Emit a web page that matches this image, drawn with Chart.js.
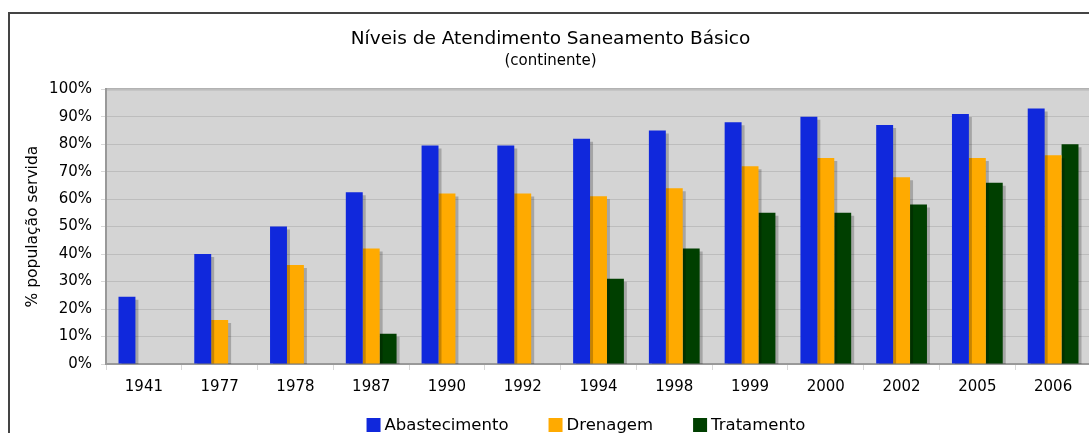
<!DOCTYPE html>
<html>
<head>
<meta charset="utf-8">
<script src="https://cdn.jsdelivr.net/npm/chart.js@4.4.0/dist/chart.umd.min.js"></script>
<style>
  html, body { margin: 0; padding: 0; background: #fff; overflow: hidden; }
  .moldura {
    position: absolute; left: 8px; top: 12px;
    width: 1170px; height: 460px;
    border-left: 2px solid #444; border-top: 2px solid #444;
  }
  .moldura canvas { position: absolute; left: 0; top: 0; }
</style>
</head>
<body>
<div class="moldura">
  <canvas id="grafico" width="1100" height="440"></canvas>
</div>
<script>
const anos = ['1941', '1977', '1978', '1987', '1990', '1992', '1994', '1998', '1999', '2000', '2002', '2005', '2006'];
const abastecimento = [24.5, 40, 50, 62.5, 79.5, 79.5, 82, 85, 88, 90, 87, 91, 93];
const drenagem = [null, 16, 36, 42, 62, 62, 61, 64, 72, 75, 68, 75, 76];
const tratamento = [null, null, null, 11, null, null, 31, 42, 55, 55, 58, 66, 80];
const ticksY = [0, 10, 20, 30, 40, 50, 60, 70, 80, 90, 100];

const fonte = "'DejaVu Sans', Verdana, sans-serif";

// fundo cinza da area do grafico + borda de cima
const fundoPlot = {
  id: 'fundoPlot',
  beforeDraw(chart) {
    const { ctx, chartArea: a } = chart;
    ctx.save();
    ctx.fillStyle = '#d4d4d4';
    ctx.fillRect(a.left, a.top, a.right - a.left, a.bottom - a.top);
    ctx.strokeStyle = '#999';
    ctx.lineWidth = 2;
    ctx.beginPath();
    ctx.moveTo(a.left, a.top);
    ctx.lineTo(a.right, a.top);
    ctx.stroke();
    ctx.restore();
  }
};

// sombra das barras
const sombra = {
  id: 'sombra',
  beforeDatasetsDraw(chart) {
    const ctx = chart.ctx;
    ctx.save();
    ctx.shadowColor = 'rgba(0,0,0,0.22)';
    ctx.shadowOffsetX = 3;
    ctx.shadowOffsetY = 3;
    ctx.shadowBlur = 0;
  },
  afterDatasetsDraw(chart) {
    chart.ctx.restore();
  }
};

// legenda desenhada a mao (espacamento do original)
const legenda = {
  id: 'legenda',
  afterDraw(chart) {
    const ctx = chart.ctx;
    const box = 14, gapTexto = 4, gapItem = 40;
    const centroX = 576;
    const y = chart.chartArea.bottom + 61;
    ctx.save();
    ctx.font = '16.5px ' + fonte;
    ctx.textBaseline = 'middle';
    ctx.textAlign = 'left';
    const itens = chart.data.datasets.map(ds => ({
      cor: ds.backgroundColor, texto: ds.label, w: ctx.measureText(ds.label).width
    }));
    let total = itens.reduce((s, it) => s + box + gapTexto + it.w, 0) + gapItem * (itens.length - 1);
    let x = centroX - total / 2;
    itens.forEach(it => {
      ctx.fillStyle = it.cor;
      ctx.fillRect(x, y - box / 2, box, box);
      ctx.fillStyle = '#000';
      ctx.fillText(it.texto, x + box + gapTexto, y + 1);
      x += box + gapTexto + it.w + gapItem;
    });
    ctx.restore();
  }
};

const ctx = document.getElementById('grafico').getContext('2d');

const grafico = new Chart(ctx, {
  type: 'bar',
  data: {
    labels: anos,
    datasets: [
      { label: 'Abastecimento', data: abastecimento, backgroundColor: '#1028dc' },
      { label: 'Drenagem', data: drenagem, backgroundColor: '#ffaa00' },
      { label: 'Tratamento', data: tratamento, backgroundColor: '#003f00' }
    ]
  },
  options: {
    responsive: false,
    animation: false,
    layout: { padding: { top: 5, right: 19, left: 0, bottom: 50 } },
    datasets: {
      bar: { categoryPercentage: 0.67, barPercentage: 1.0 }
    },
    plugins: {
      title: {
        display: true,
        text: 'Níveis de Atendimento Saneamento Básico',
        color: '#000',
        font: { family: fonte, size: 18.5, weight: 'normal' },
        padding: { top: 9, bottom: 2 }
      },
      subtitle: {
        display: true,
        text: '(continente)',
        color: '#000',
        font: { family: fonte, size: 15, weight: 'normal' },
        padding: { top: 0, bottom: 19 }
      },
      legend: { display: false },
      tooltip: { enabled: false }
    },
    scales: {
      x: {
        offset: true,
        grid: {
          offset: true,
          drawOnChartArea: false,
          drawTicks: true,
          tickLength: 6,
          color: '#d8d8d8'
        },
        border: { color: '#999', width: 2 },
        ticks: {
          color: '#000',
          font: { family: fonte, size: 15 },
          padding: 8
        }
      },
      y: {
        min: 0,
        max: 100,
        afterFit(scale) { scale.width = 96; },
        afterBuildTicks(scale) { scale.ticks = ticksY.map(v => ({ value: v })); },
        grid: { color: '#bdbdbd', tickColor: '#d8d8d8', drawTicks: true, tickLength: 5 },
        border: { color: '#999', width: 2 },
        title: {
          display: true,
          text: '% população servida',
          color: '#000',
          font: { family: fonte, size: 15.5 },
          padding: { top: 14, bottom: 0 }
        },
        ticks: {
          color: '#000',
          font: { family: fonte, size: 15 },
          padding: 9,
          callback: v => v + '%'
        }
      }
    }
  },
  plugins: [fundoPlot, sombra, legenda]
});
</script>
</body>
</html>
